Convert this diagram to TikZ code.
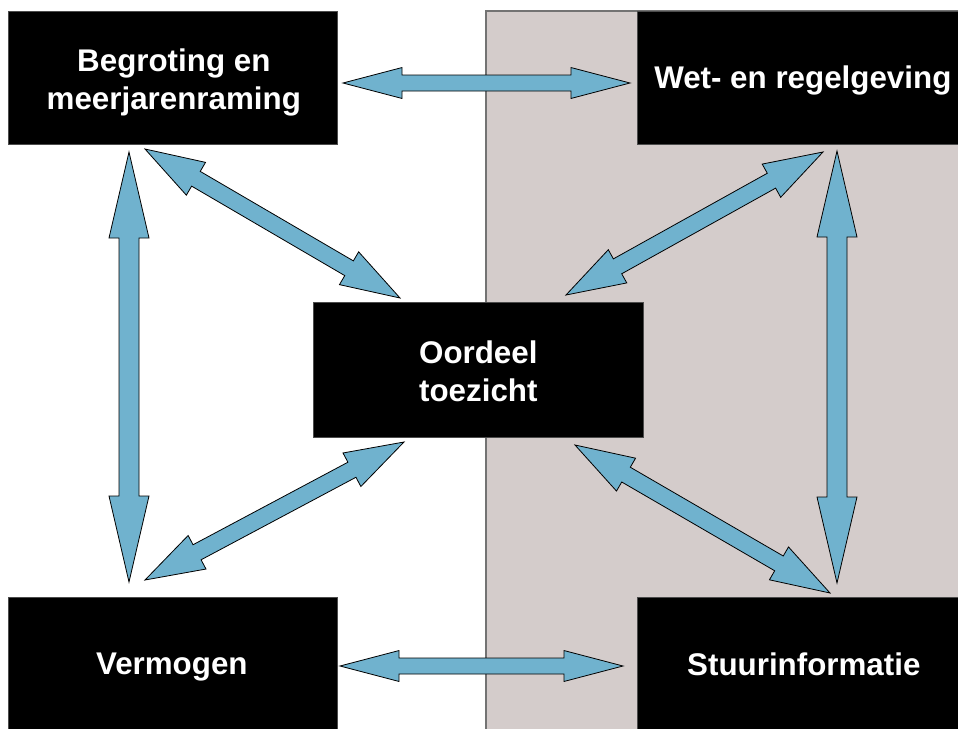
\documentclass[tikz,border=0pt]{standalone}
\usepackage{fontspec}
\setmainfont{Liberation Sans}
\usetikzlibrary{calc}
\definecolor{bgrey}{RGB}{212,204,203}
\definecolor{arrblue}{RGB}{112,178,206}
\definecolor{edgegrey}{RGB}{115,115,115}
% #1,#2 tips; #3 head length; #4 shaft half width; #5 head half width
\newcommand{\dblarrow}[5]{%
  \coordinate (ha) at ($(#1)!#3!(#2)$);
  \coordinate (hb) at ($(#2)!#3!(#1)$);
  \draw[arrowshape] (#1) -- ($(ha)!#5!90:(#1)$) -- ($(ha)!#4!90:(#1)$)
    -- ($(hb)!#4!-90:(#2)$) -- ($(hb)!#5!-90:(#2)$) -- (#2)
    -- ($(hb)!#5!90:(#2)$) -- ($(hb)!#4!90:(#2)$)
    -- ($(ha)!#4!-90:(#1)$) -- ($(ha)!#5!-90:(#1)$) -- cycle;}
\begin{document}
\begin{tikzpicture}[x=0.75pt,y=-0.75pt,
  box/.style={fill=black, draw=gray!60!black, line width=0.5pt,
    inner sep=0pt, anchor=north west},
  boxtext/.style={text=white, font=\bfseries\fontsize{23.5}{28.5}\selectfont,
    align=center, inner sep=0pt},
  arrowshape/.style={fill=arrblue, draw=black, line width=0.6pt, line join=miter}]
\clip (0,0) rectangle (958,729);
\fill[white] (0,0) rectangle (958,729);
\draw[fill=bgrey, draw=edgegrey, line width=1.1pt] (486,11) rectangle (980,745);
\node[box, minimum width=329*0.75pt, minimum height=133*0.75pt] (beg) at (8,11) {};
\node[box, minimum width=331*0.75pt, minimum height=133*0.75pt] (wet) at (637,11) {};
\node[box, minimum width=330*0.75pt, minimum height=135*0.75pt] (oor) at (313,302) {};
\node[box, minimum width=329*0.75pt, minimum height=134*0.75pt] (ver) at (8,597) {};
\node[box, minimum width=331*0.75pt, minimum height=134*0.75pt] (stu) at (637,597) {};
\node[boxtext] (begt) at ($(beg.center)+(1,5)$) {Begroting en\\meerjarenraming};
\node[boxtext] (wett) at ($(wet.center)+(0,3)$) {Wet- en regelgeving};
\node[boxtext] (oort) at ($(oor.center)+(0,1)$) {Oordeel\\toezicht};
\node[boxtext] (vert) at ($(ver.center)+(-1,3)$) {Vermogen};
\node[boxtext] (stut) at ($(stu.center)+(1,0)$) {Stuurinformatie};
% arrow end points
\coordinate (a1s) at (343,83);  \coordinate (a1e) at (630,83);
\coordinate (a2s) at (340,666); \coordinate (a2e) at (623,666);
\coordinate (a3s) at (145,149); \coordinate (a3e) at (400,298);
\coordinate (a4s) at (129,152); \coordinate (a4e) at (129,582);
\coordinate (a5s) at (145,580); \coordinate (a5e) at (404,442);
\coordinate (a6s) at (823,152); \coordinate (a6e) at (566,295);
\coordinate (a7s) at (837,151); \coordinate (a7e) at (837,583);
\coordinate (a8s) at (575,445); \coordinate (a8e) at (830,593);
\dblarrow{a1s}{a1e}{44.25pt}{6pt}{11.6pt}
\dblarrow{a2s}{a2e}{44.25pt}{6pt}{11.6pt}
\dblarrow{a3s}{a3e}{44.25pt}{6.4pt}{14.25pt}
\dblarrow{a5s}{a5e}{44.25pt}{6.4pt}{14.25pt}
\dblarrow{a6s}{a6e}{44.25pt}{6.4pt}{14.25pt}
\dblarrow{a8s}{a8e}{44.25pt}{6.4pt}{14.25pt}
\dblarrow{a4s}{a4e}{64.5pt}{7.5pt}{15pt}
\dblarrow{a7s}{a7e}{64.5pt}{7.5pt}{15pt}
\end{tikzpicture}
\end{document}
